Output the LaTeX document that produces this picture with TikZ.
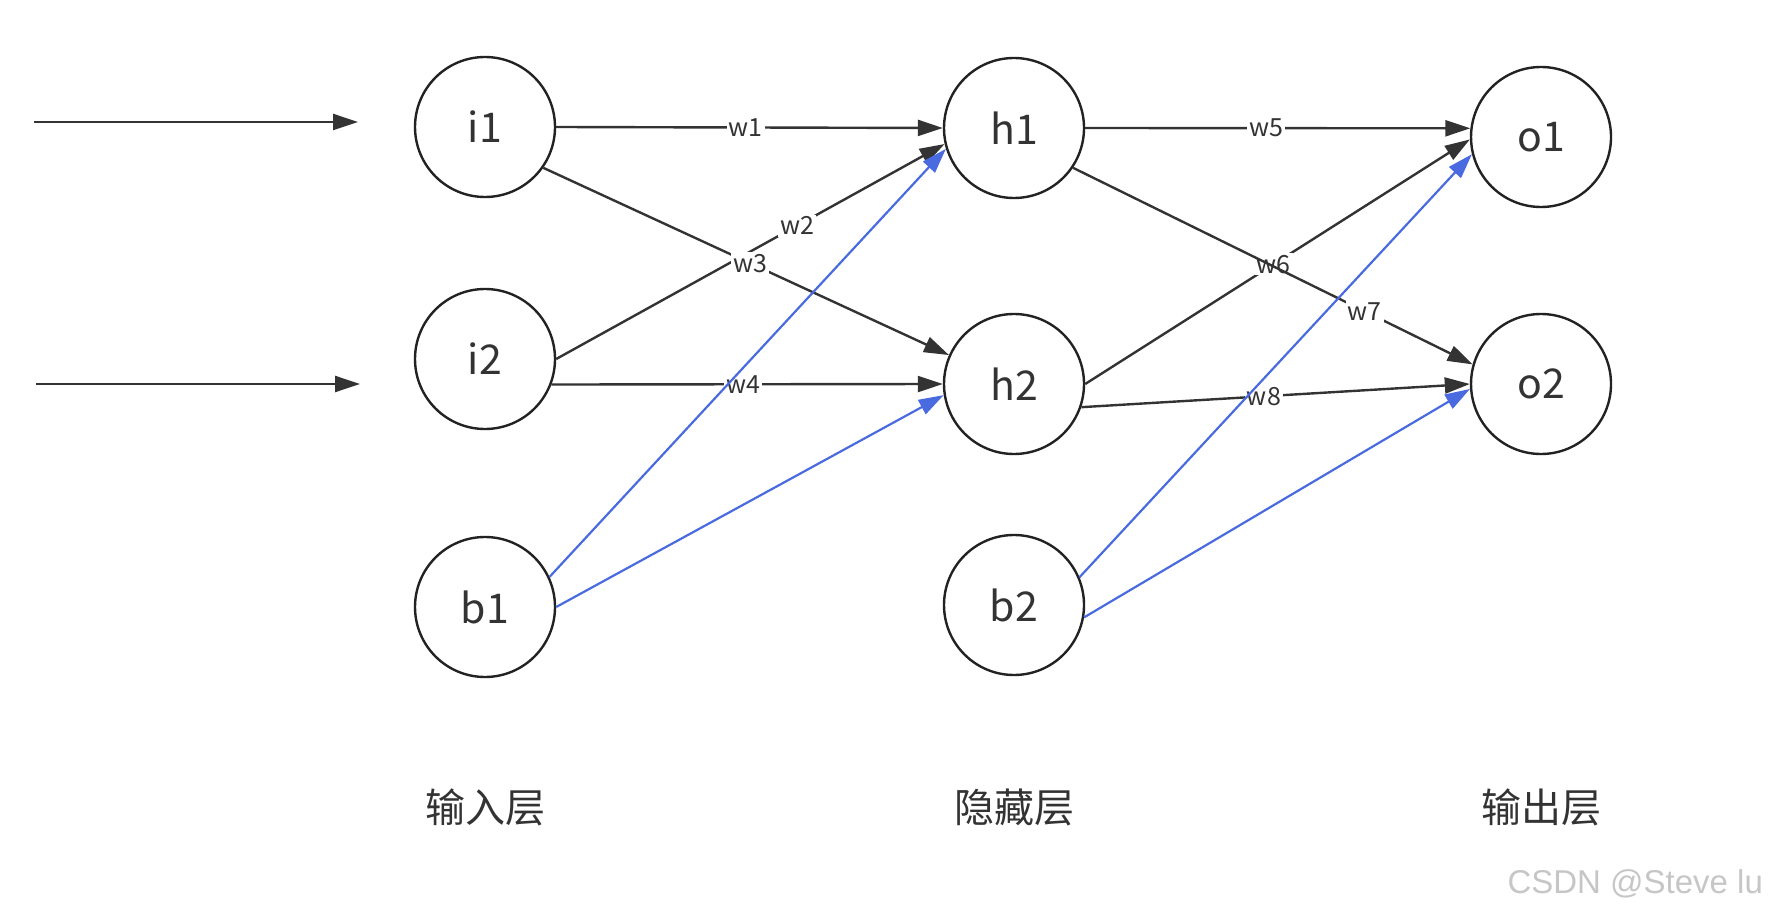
\documentclass[tikz,border=0pt]{standalone}
\usepackage{fontspec}
\setmainfont{Noto Sans CJK SC}
\newfontfamily\wmfont{Liberation Sans}
\usetikzlibrary{arrows.meta}
\definecolor{ink}{HTML}{333333}
\definecolor{rim}{HTML}{222222}
\definecolor{biasblue}{HTML}{4A6BE0}
\tikzset{neuron/.style={circle,draw=rim,line width=1.2pt,minimum size=70pt,inner sep=0pt,text=ink,font=\fontsize{20.5pt}{24pt}\selectfont},
  wlab/.style={fill=white,inner sep=1pt,text=ink,font=\fontsize{12.5pt}{14pt}\selectfont},
  conn/.style={draw=ink,line width=1.2pt,-{Triangle[length=12.5pt,width=8pt]}},
  bias/.style={conn,draw=biasblue,line width=1.1pt},
  layer/.style={text=ink,font=\fontsize{20pt}{24pt}\selectfont}}

\begin{document}
\begin{tikzpicture}[x=0.5pt,y=-0.5pt]
      \useasboundingbox (0,0) rectangle (1770,914);
      \node[neuron] (i1) at (485,127) {i1};
      \node[neuron] (i2) at (485,359) {i2};
      \node[neuron] (b1) at (485,607) {b1};
      \node[neuron] (h1) at (1014,128) {h1};
      \node[neuron] (h2) at (1014,384) {h2};
      \node[neuron] (b2) at (1014,605) {b2};
      \node[neuron] (o1) at (1541,137) {o1};
      \node[neuron] (o2) at (1541,384) {o2};
      \coordinate (x1s) at (34,122);
      \coordinate (x1e) at (358,122);
      \coordinate (x2s) at (36,384);
      \coordinate (x2e) at (360,384);
      \node[layer] (inl) at (485,807) {输入层};
      \node[layer] (hidl) at (1014,807) {隐藏层};
      \node[layer] (outl) at (1541,807) {输出层};
      \node[anchor=east,text=gray!45,font=\wmfont\fontsize{16.5pt}{18pt}\selectfont] (wm) at (1770,884) {CSDN @Steve lu};

\draw[conn] (x1s) -- (x1e);
\draw[conn] (x2s) -- (x2e);
\foreach \a/\b/\w/\p in {i1.0/h1.180/w1/.49,i2.0/h1.193/w2/.62,i1.325/h2.156/w3/.51,i2.339/h2.180/w4/.49,
  h1.0/o1.173/w5/.47,h2.0/o1.182/w6/.49,h1.326/o2.164/w7/.73,h2.341/o2.180/w8/.47}
  \draw[conn] (\a) -- node[wlab,pos=\p] {\w} (\b);
\foreach \a/\b in {b1.25/h1.197,b1.0/h2.189,b2.23/o1.194,b2.350/o2.184}
  \draw[bias] (\a) -- (\b);
    \end{tikzpicture}
\end{document}
